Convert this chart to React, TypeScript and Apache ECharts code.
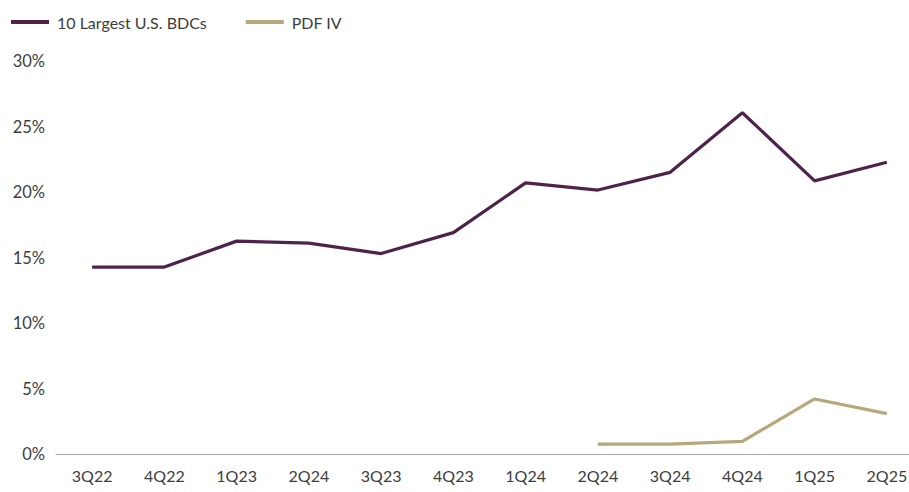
import React, { useEffect, useRef } from "react";
import * as echarts from "echarts";

const categories = ["3Q22", "4Q22", "1Q23", "2Q24", "3Q23", "4Q23", "1Q24", "2Q24", "3Q24", "4Q24", "1Q25", "2Q25"];
const bdcValues = [14.27, 14.27, 16.25, 16.1, 15.3, 16.9, 20.7, 20.15, 21.5, 26.05, 20.85, 22.27];
const pdfValues: (number | null)[] = [null, null, null, null, null, null, null, 0.76, 0.76, 0.97, 4.2, 3.08];
const yTicks = [0, 5, 10, 15, 20, 25, 30];

const FONT = "Lato";
const TEXT = "#3d3d3d";

export default function App() {
  const ref = useRef<HTMLDivElement>(null);
  useEffect(() => {
    const chart = echarts.init(ref.current!, null, { renderer: "svg" });
    chart.setOption({
      animation: false,
      textStyle: { fontFamily: FONT },
      legend: {
        left: 11,
        top: 14,
        padding: 0,
        itemWidth: 38,
        itemHeight: 4,
        itemGap: 39,
        icon: "rect",
        textStyle: { fontFamily: FONT, fontSize: 16, color: TEXT, padding: [0, 0, 0, 3] },
        data: ["10 Largest U.S. BDCs", "PDF IV"],
      },
      grid: { left: 56, right: 0, top: 61, bottom: 38, containLabel: false },
      xAxis: {
        type: "category",
        data: categories,
        boundaryGap: true,
        axisLine: { lineStyle: { color: "#a8a8a8", width: 1 } },
        axisTick: { show: false },
        axisLabel: { fontFamily: FONT, fontSize: 16, color: TEXT, margin: 13, interval: 0 },
      },
      yAxis: {
        type: "value",
        min: yTicks[0],
        max: yTicks[yTicks.length - 1],
        interval: 5,
        axisLine: { show: false },
        axisTick: { show: false },
        splitLine: { show: false },
        axisLabel: { fontFamily: FONT, fontSize: 16.5, color: TEXT, margin: 11, formatter: "{value}%" },
      },
      series: [
        {
          name: "10 Largest U.S. BDCs",
          type: "line",
          data: bdcValues,
          symbol: "none",
          lineStyle: { color: "#4f2349", width: 3.2 },
          itemStyle: { color: "#4f2349" },
        },
        {
          name: "PDF IV",
          type: "line",
          data: pdfValues,
          symbol: "none",
          lineStyle: { color: "#b5a97c", width: 3.2 },
          itemStyle: { color: "#b5a97c" },
        },
      ],
    });
    return () => chart.dispose();
  }, []);
  return (
    <div style={{ width: 909, height: 492, position: "absolute", left: 0, top: 0, overflow: "hidden" }}>
      <div ref={ref} style={{ width: 923, height: 492 }} />
    </div>
  );
}
